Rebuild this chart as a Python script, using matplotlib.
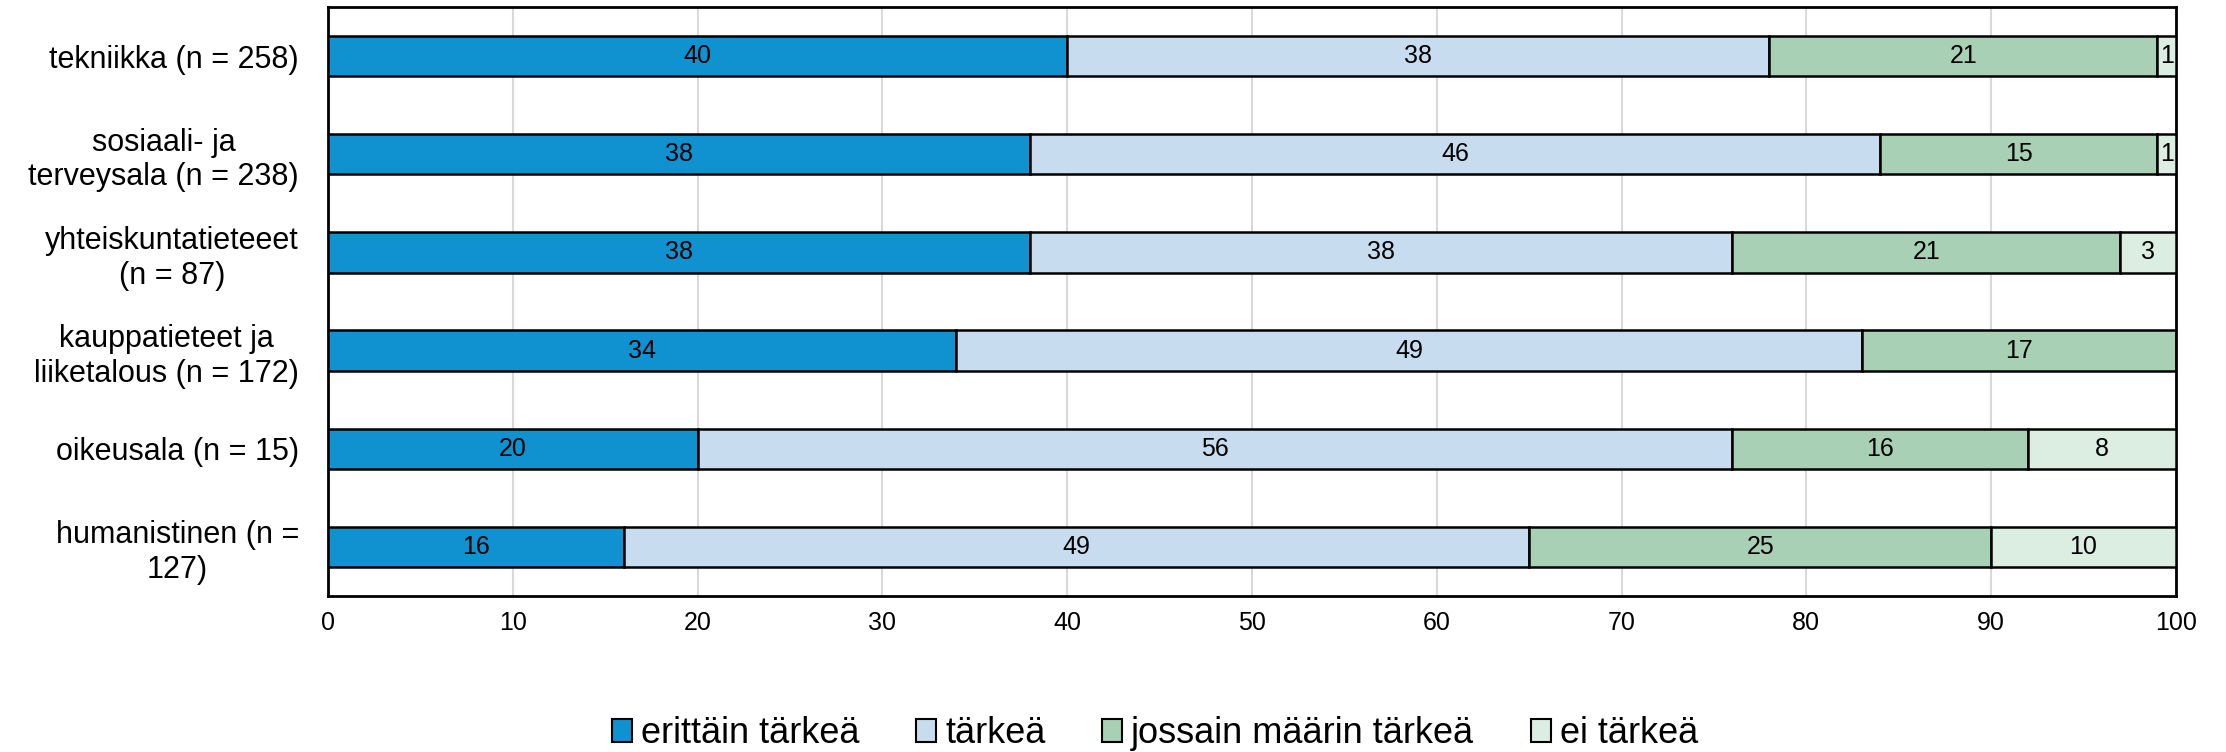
import numpy as np
import matplotlib
matplotlib.use("Agg")
import matplotlib.pyplot as plt

plt.rcParams['font.family'] = ['Liberation Sans', 'DejaVu Sans']

# data
categories = [
    "tekniikka (n = 258)",
    "sosiaali- ja\nterveysala (n = 238)",
    "yhteiskuntatieteeet\n(n = 87)",
    "kauppatieteet ja\nliiketalous (n = 172)",
    "oikeusala (n = 15)",
    "humanistinen (n =\n127)",
]
series_names = ["erittäin tärkeä", "tärkeä", "jossain määrin tärkeä", "ei tärkeä"]
erittain = [40, 38, 38, 34, 20, 16]
tarkea = [38, 46, 38, 49, 56, 49]
jossain = [21, 15, 21, 17, 16, 25]
ei_tarkea = [1, 1, 3, 0, 8, 10]
xticks = list(range(0, 101, 10))

colors = ["#1192d0", "#c8dcf0", "#a8d0b4", "#dcede2"]

fig = plt.figure(figsize=(22.26, 7.52), dpi=100)
ax = fig.add_axes([0.1474, 0.2074, 0.8301, 0.7833])

y = np.arange(len(categories))
left = np.zeros(len(categories))
handles = []
for name, vals, col in zip(series_names, [erittain, tarkea, jossain, ei_tarkea], colors):
    vals = np.array(vals, dtype=float)
    bars = ax.barh(y, vals, left=left, height=0.41, color=col,
                   edgecolor="black", linewidth=1.8, label=name, zorder=3)
    handles.append(bars)
    labels = [f"{int(v)}" if v > 0 else "" for v in vals]
    ax.bar_label(bars, labels=labels, label_type="center", fontsize=18, color="black")
    left += vals

ax.set_xlim(0, 100)
ax.set_ylim(len(categories) - 0.5, -0.5)
ax.set_xticks(xticks)
ax.set_yticks(y)
ax.set_yticklabels(categories, fontsize=22, multialignment="center")
ax.tick_params(axis="x", length=0, labelsize=18, pad=11)
ax.tick_params(axis="y", length=0, pad=21)

ax.xaxis.grid(True, color="#d9d9d9", linewidth=1.5, zorder=0)
ax.set_axisbelow(True)
for sp in ax.spines.values():
    sp.set_linewidth(2)
    sp.set_color("black")

leg = fig.legend(handles=handles, labels=series_names, loc="center",
                 bbox_to_anchor=(0.519, 0.024), ncol=4, frameon=False,
                 fontsize=26, handlelength=0.55, handleheight=0.6,
                 handletextpad=0.25, columnspacing=1.57)
for h in leg.legend_handles:
    h.set_linewidth(1.5)

fig.savefig("out.png", dpi=100)
